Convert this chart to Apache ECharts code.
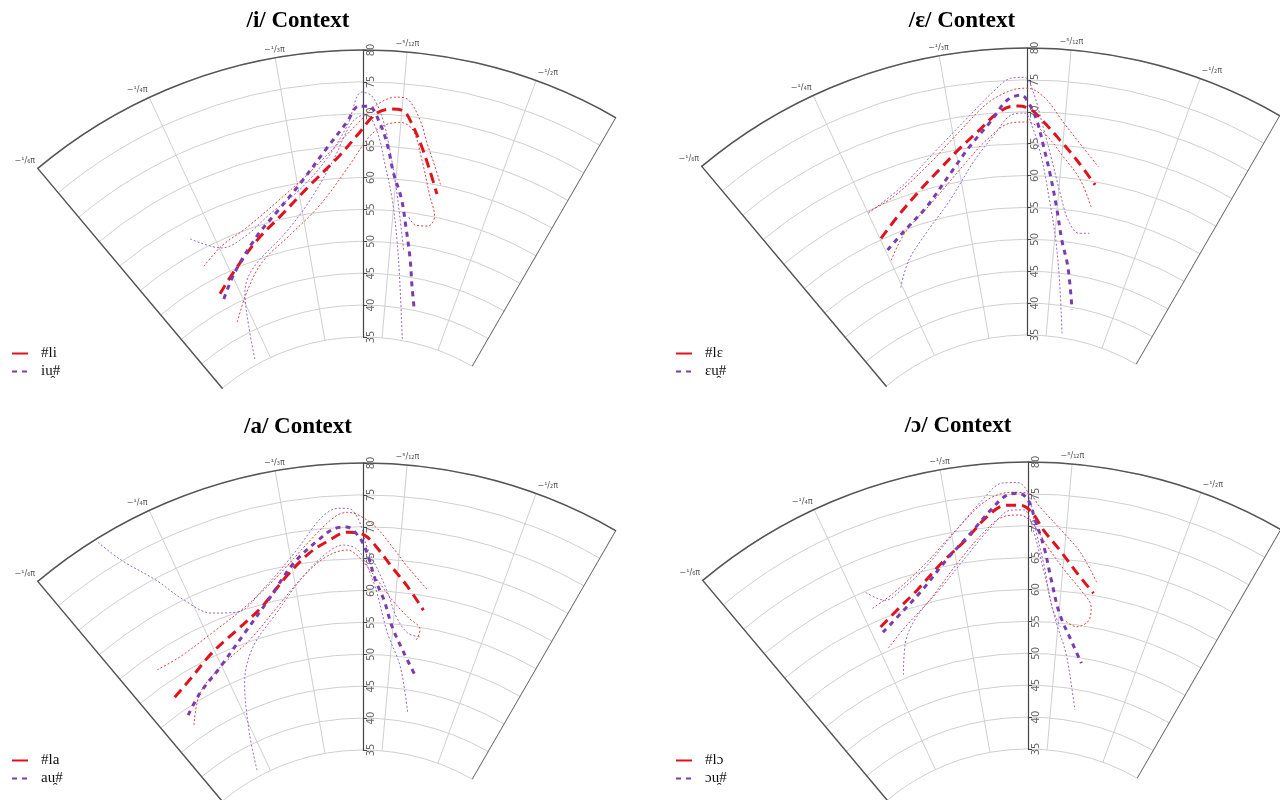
<!DOCTYPE html>
<html><head><meta charset="utf-8">
<script src="https://cdn.jsdelivr.net/npm/echarts@6/dist/echarts.min.js"></script>
<style>html,body{margin:0;padding:0;background:#fff}#c{width:1280px;height:800px}</style>
</head><body><div id="c"></div>
<script>
// ---- data: each point = [radial value, angle in units of π] ----
const panelTitles = ['/i/ Context', '/ɛ/ Context', '/a/ Context', '/ɔ/ Context'];
const legendNames = [['#li', 'iu̯#'], ['#lɛ', 'ɛu̯#'], ['#la', 'au̯#'], ['#lɔ', 'ɔu̯#']];
const radialTicks = [35, 40, 45, 50, 55, 60, 65, 70, 75, 80];
const angleTickLabels = ['−¹/₆π', '−¹/₄π', '−¹/₃π', '−⁵/₁₂π', '−¹/₂π'];
const angleMin = -1/6, angleMax = -5/9;

// panel 1 : /i/
const p1Red = [[47.5,-0.230],[49.5,-0.252],[52.9,-0.286],[55.5,-0.313],[59.3,-0.343],[63.5,-0.370],[67.0,-0.386],[70.0,-0.398],[70.9,-0.409],[70.7,-0.418],[69.1,-0.424],[65.6,-0.434],[62.2,-0.443],[58.6,-0.453]];
const p1Purple = [[46.5,-0.231],[49.5,-0.254],[53.5,-0.287],[56.3,-0.311],[60.1,-0.337],[64.7,-0.360],[68.7,-0.377],[71.2,-0.386],[71.2,-0.393],[68.7,-0.401],[65.1,-0.408],[61.0,-0.414],[57.0,-0.423],[52.8,-0.430],[47.8,-0.439],[43.7,-0.446],[40.2,-0.454]];
const p1RedHi = [[52.5,-0.229],[54.1,-0.253],[55.2,-0.279],[57.8,-0.313],[61.4,-0.345],[65.7,-0.371],[68.7,-0.386],[71.2,-0.397],[72.8,-0.412],[72.6,-0.420],[69.7,-0.430],[65.7,-0.439],[62.8,-0.447],[59.9,-0.455]];
const p1RedLo = [[42.3,-0.232],[45.9,-0.257],[49.4,-0.284],[52.3,-0.318],[56.1,-0.350],[62.0,-0.378],[66.5,-0.394],[68.3,-0.405],[68.9,-0.416],[67.9,-0.426],[63.4,-0.436],[58.2,-0.447],[55.1,-0.455],[53.4,-0.451],[53.2,-0.439],[54.4,-0.431]];
const p1PurpleHi = [[57.3,-0.230],[53.8,-0.252],[54.1,-0.277],[56.2,-0.304],[58.9,-0.334],[63.0,-0.359],[68.1,-0.377],[73.4,-0.388],[72.8,-0.395],[69.4,-0.403],[64.4,-0.410],[59.0,-0.417],[54.4,-0.423],[49.0,-0.431]];
const p1PurpleLo = [[35.9,-0.229],[40.9,-0.242],[46.0,-0.255],[49.0,-0.273],[52.9,-0.315],[57.1,-0.342],[62.9,-0.365],[68.7,-0.381],[69.9,-0.391],[67.5,-0.399],[62.0,-0.407],[56.7,-0.415],[50.5,-0.423],[44.3,-0.431],[35.2,-0.446]];

// panel 2 : /ɛ/
const p2Red = [[55.2,-0.251],[57.3,-0.272],[59.8,-0.295],[62.8,-0.320],[64.9,-0.335],[67.5,-0.353],[69.7,-0.366],[70.9,-0.378],[70.9,-0.383],[70.3,-0.392],[68.3,-0.402],[65.8,-0.414],[62.9,-0.429],[59.5,-0.447]];
const p2Purple = [[53.1,-0.252],[54.9,-0.274],[57.3,-0.299],[61.6,-0.326],[65.1,-0.344],[68.9,-0.363],[71.9,-0.375],[72.6,-0.385],[71.8,-0.389],[68.7,-0.396],[64.5,-0.402],[60.5,-0.408],[55.2,-0.416],[50.2,-0.424],[46.1,-0.434],[39.6,-0.447]];
const p2RedHi = [[59.8,-0.251],[60.4,-0.274],[63.4,-0.308],[67.5,-0.337],[71.6,-0.361],[73.4,-0.378],[73.7,-0.389],[72.3,-0.401],[68.5,-0.416],[65.1,-0.432],[62.4,-0.447]];
const p2RedLo = [[51.4,-0.251],[54.5,-0.273],[58.0,-0.307],[62.2,-0.336],[65.9,-0.358],[68.3,-0.377],[68.4,-0.389],[66.7,-0.402],[63.2,-0.418],[59.9,-0.434],[56.0,-0.447]];
const p2PurpleHi = [[59.6,-0.250],[61.5,-0.284],[65.2,-0.316],[69.4,-0.344],[73.6,-0.367],[75.3,-0.378],[75.4,-0.387],[73.9,-0.392],[67.6,-0.401],[62.5,-0.409],[57.5,-0.418],[53.4,-0.428],[51.6,-0.440],[51.9,-0.450]];
const p2PurpleLo = [[46.9,-0.248],[50.3,-0.267],[53.4,-0.292],[57.5,-0.321],[63.0,-0.347],[66.8,-0.365],[69.5,-0.377],[69.8,-0.387],[67.6,-0.393],[62.5,-0.401],[56.3,-0.409],[50.1,-0.418],[43.5,-0.427],[35.7,-0.439]];

// panel 3 : /a/
const p3Red = [[52.5,-0.196],[53.7,-0.220],[55.6,-0.247],[57.4,-0.276],[59.6,-0.302],[63.3,-0.327],[66.4,-0.348],[68.1,-0.364],[69.2,-0.377],[69.0,-0.386],[68.4,-0.392],[66.4,-0.401],[63.8,-0.412],[61.0,-0.426],[57.7,-0.442]];
const p3Purple = [[49.0,-0.197],[50.9,-0.219],[53.0,-0.248],[56.5,-0.281],[60.4,-0.309],[65.2,-0.335],[68.3,-0.356],[69.9,-0.369],[70.0,-0.377],[68.4,-0.386],[65.9,-0.392],[61.7,-0.399],[58.6,-0.407],[54.5,-0.416],[50.6,-0.430],[47.2,-0.446]];
const p3RedHi = [[57.6,-0.197],[57.4,-0.220],[58.4,-0.254],[60.4,-0.289],[63.6,-0.320],[68.4,-0.350],[71.7,-0.369],[72.3,-0.378],[71.8,-0.386],[70.0,-0.398],[67.0,-0.411],[64.1,-0.424],[60.9,-0.443]];
const p3RedLo = [[47.2,-0.196],[50.9,-0.219],[53.0,-0.248],[55.2,-0.283],[59.0,-0.315],[62.8,-0.340],[65.5,-0.360],[66.4,-0.377],[65.2,-0.386],[62.1,-0.399],[58.7,-0.414],[56.3,-0.429],[54.6,-0.442],[52.9,-0.440]];
const p3PurpleHi = [[79.4,-0.212],[75.1,-0.219],[69.8,-0.233],[65.0,-0.245],[61.3,-0.261],[60.0,-0.281],[62.5,-0.309],[66.8,-0.337],[71.8,-0.360],[73.0,-0.372],[72.9,-0.379],[71.0,-0.386],[66.8,-0.392],[62.8,-0.402],[59.7,-0.410],[56.1,-0.419],[53.8,-0.431],[53.5,-0.443]];
const p3PurpleLo = [[36.0,-0.233],[41.7,-0.246],[49.2,-0.264],[54.0,-0.284],[58.1,-0.313],[62.8,-0.340],[66.1,-0.361],[67.2,-0.374],[66.7,-0.383],[65.2,-0.389],[60.6,-0.399],[53.5,-0.412],[48.4,-0.428],[41.4,-0.444]];

// panel 4 : /ɔ/
const p4Red = [[58.9,-0.259],[60.4,-0.277],[62.4,-0.298],[65.6,-0.322],[68.5,-0.343],[71.7,-0.360],[73.3,-0.374],[73.2,-0.384],[72.0,-0.392],[69.4,-0.400],[66.4,-0.413],[63.1,-0.428],[60.3,-0.444]];
const p4Purple = [[58.0,-0.259],[59.8,-0.280],[62.2,-0.302],[65.9,-0.326],[69.4,-0.347],[72.7,-0.363],[74.9,-0.375],[75.1,-0.383],[74.0,-0.389],[70.9,-0.394],[66.7,-0.401],[61.6,-0.408],[56.5,-0.417],[52.1,-0.432],[49.2,-0.444]];
const p4RedHi = [[62.1,-0.259],[63.1,-0.279],[66.1,-0.310],[70.6,-0.339],[74.3,-0.361],[75.3,-0.378],[75.1,-0.389],[73.0,-0.397],[69.1,-0.415],[66.3,-0.429],[62.1,-0.445]];
const p4RedLo = [[55.4,-0.258],[57.5,-0.279],[60.4,-0.306],[65.1,-0.334],[69.2,-0.356],[71.5,-0.371],[71.7,-0.383],[70.4,-0.392],[66.7,-0.404],[63.3,-0.418],[60.5,-0.433],[58.1,-0.444],[56.0,-0.444],[54.7,-0.434],[55.5,-0.422]];
const p4PurpleHi = [[64.8,-0.259],[62.5,-0.271],[63.2,-0.286],[65.5,-0.309],[69.8,-0.335],[74.4,-0.358],[76.8,-0.372],[76.8,-0.382],[75.1,-0.389],[69.8,-0.394],[63.5,-0.402],[57.4,-0.410],[54.4,-0.419]];
const p4PurpleLo = [[50.6,-0.261],[55.1,-0.274],[58.4,-0.291],[61.9,-0.318],[65.8,-0.341],[70.0,-0.362],[72.5,-0.377],[72.5,-0.386],[69.8,-0.392],[62.6,-0.402],[55.4,-0.414],[50.4,-0.427],[44.8,-0.439],[41.8,-0.446]];

const panels = [
  {red: p1Red, purple: p1Purple, redHi: p1RedHi, redLo: p1RedLo, purpleHi: p1PurpleHi, purpleLo: p1PurpleLo},
  {red: p2Red, purple: p2Purple, redHi: p2RedHi, redLo: p2RedLo, purpleHi: p2PurpleHi, purpleLo: p2PurpleLo},
  {red: p3Red, purple: p3Purple, redHi: p3RedHi, redLo: p3RedLo, purpleHi: p3PurpleHi, purpleLo: p3PurpleLo},
  {red: p4Red, purple: p4Purple, redHi: p4RedHi, redLo: p4RedLo, purpleHi: p4PurpleHi, purpleLo: p4PurpleLo}
];

// ---- layout ----
const centers = [[363, 556], [1027, 554], [363, 969], [1028, 968]];
const titlePos = [[293, 5], [957, 5], [293, 411], [953, 410]];
const legendPos = [[6, 341], [670, 341], [6, 748], [670, 748]];
const RADII = [219, 506];
const RED = '#e0121c', PURPLE = '#7b3cb0', RED_D = '#db4040', PURPLE_D = '#9466c8';
const R0 = radialTicks[0], R1 = radialTicks[radialTicks.length - 1];

const toPolar = arr => arr.map(p => [p[0], -p[1]]);
const fmtAngle = v => {
  const k = Math.round(v * 12);
  if (Math.abs(v * 12 - k) > 1e-3) return '';
  return angleTickLabels[k - 2] || '';
};

const polar = [], angleAxis = [], radiusAxis = [], series = [], title = [], legend = [], grid = [], xAxis = [], yAxis = [];
centers.forEach((c, i) => {
  // fan grid (radial lines + arcs + left edge)
  polar.push({center: c, radius: RADII});
  angleAxis.push({
    polarIndex: 2 * i, type: 'value', startAngle: 130, endAngle: 60, clockwise: true,
    min: -angleMin, max: -angleMax, interval: 1 / 12,
    axisLine: {show: false}, axisTick: {show: false},
    splitLine: {show: true, lineStyle: {color: '#cfcfcf', width: 1}},
    axisLabel: {show: true, formatter: fmtAngle, color: '#555', fontSize: 8, margin: 4, fontFamily: 'DejaVu Sans'}
  });
  radiusAxis.push({
    polarIndex: 2 * i, type: 'value', min: R0, max: R1, interval: 5,
    axisLine: {show: true, lineStyle: {color: '#555', width: 1.5}},
    axisTick: {show: false}, axisLabel: {show: false},
    splitLine: {show: true, lineStyle: {color: '#cfcfcf', width: 1}}
  });
  // outer arc (polar starting at the centre so the line is an arc, not a ring)
  polar.push({center: c, radius: [0, RADII[1]]});
  angleAxis.push({
    polarIndex: 2 * i + 1, type: 'value', startAngle: 130, endAngle: 60, clockwise: true,
    min: -angleMin, max: -angleMax,
    axisLine: {show: true, lineStyle: {color: '#555', width: 1.5}},
    axisTick: {show: false}, axisLabel: {show: false}, splitLine: {show: false}
  });
  radiusAxis.push({polarIndex: 2 * i + 1, type: 'value', min: 0, max: R1, show: false});
  // vertical radial axis with the value labels
  grid.push({left: c[0] - 40, width: 40, top: c[1] - RADII[1], height: RADII[1] - RADII[0]});
  xAxis.push({gridIndex: i, type: 'value', show: false, min: 0, max: 1});
  yAxis.push({
    gridIndex: i, type: 'value', position: 'right', min: R0, max: R1, interval: 5,
    axisLine: {show: true, onZero: false, lineStyle: {color: '#444', width: 1.2}},
    axisTick: {show: true, length: 4, lineStyle: {color: '#444'}},
    axisLabel: {show: true, rotate: 90, fontSize: 10, color: '#666', margin: 3, fontFamily: 'DejaVu Sans'},
    splitLine: {show: false}
  });
  const P = panels[i];
  const base = {type: 'line', coordinateSystem: 'polar', polarIndex: 2 * i, symbol: 'none', smooth: 0.35, silent: true, animation: false};
  // right edge of the fan
  series.push(Object.assign({}, base, {name: 'edge' + i, smooth: false, data: [[R0, -angleMax], [R1, -angleMax]], lineStyle: {color: '#555', width: 1.5}}));
  [['redHi', RED_D], ['redLo', RED_D], ['purpleHi', PURPLE_D], ['purpleLo', PURPLE_D]].forEach(([k, col]) => {
    series.push(Object.assign({}, base, {name: k + i, data: toPolar(P[k]), lineStyle: {color: col, width: 1, type: [2, 2]}, itemStyle: {color: col}}));
  });
  series.push(Object.assign({}, base, {name: legendNames[i][0], data: toPolar(P.red), z: 4, itemStyle: {color: RED}, lineStyle: {color: RED, width: 3, type: [10, 6]}}));
  series.push(Object.assign({}, base, {name: legendNames[i][1], data: toPolar(P.purple), z: 5, itemStyle: {color: PURPLE}, lineStyle: {color: PURPLE, width: 3, type: [5, 5]}}));
  title.push({text: panelTitles[i], left: titlePos[i][0], top: titlePos[i][1], textAlign: 'center',
    textStyle: {fontFamily: 'Liberation Serif', fontWeight: 'bold', fontSize: 23, color: '#000'}});
  legend.push({
    data: [{name: legendNames[i][0], lineStyle: {type: 'solid'}}, {name: legendNames[i][1]}],
    orient: 'vertical', left: legendPos[i][0], top: legendPos[i][1], itemWidth: 16, itemHeight: 12, itemGap: 3,
    itemStyle: {opacity: 0},
    textStyle: {fontFamily: 'Liberation Serif', fontSize: 15, color: '#111', padding: [0, 0, 0, 8]}, selectedMode: false});
});

const chart = echarts.init(document.getElementById('c'), null, {renderer: 'canvas'});
chart.setOption({animation: false, title, legend, grid, xAxis, yAxis, polar, angleAxis, radiusAxis, series});
</script></body></html>
